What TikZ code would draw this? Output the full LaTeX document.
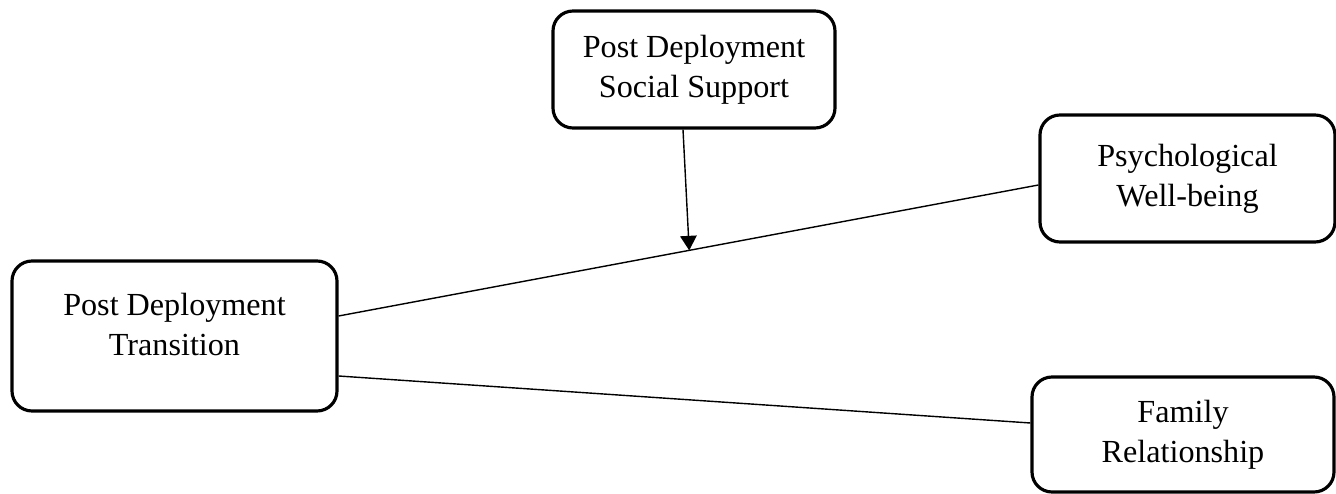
\documentclass[tikz,border=0pt]{standalone}
\usepackage{fontspec}
\setmainfont{Liberation Serif}
\usetikzlibrary{arrows.meta}
\newcommand{\boxcolor}{black}
\newcommand{\boxthick}{1.8pt}
\newcommand{\linkthick}{0.8pt}
\tikzset{varbox/.style={draw=\boxcolor, line width=\boxthick, rounded corners=0.4cm, align=center, inner sep=0pt, font=\fontsize{18.3}{22.8}\selectfont}}

\begin{document}
\begin{tikzpicture}
\useasboundingbox (0,0) rectangle (26.72,-9.88);
\node[varbox, minimum width=5.64cm, minimum height=2.34cm] (support) at (13.88,-1.39) {Post Deployment\\Social Support};
\node[varbox, minimum width=5.9cm, minimum height=2.54cm] (wellbeing) at (23.75,-3.57) {Psychological\\Well-being};
\node[varbox, minimum width=6.5cm, minimum height=3.0cm, text depth=0.45cm] (transition) at (3.49,-6.72) {Post Deployment\\Transition};
\node[varbox, minimum width=6.04cm, minimum height=2.3cm] (family) at (23.66,-8.69) {Family\\Relationship};
%links
\draw[line width=\linkthick] ([yshift=0.4cm]transition.east) -- coordinate[pos=0.501] (meet) ([yshift=-0.13cm]wellbeing.west);
\draw[line width=\linkthick, -{Triangle[length=0.29cm, width=0.33cm]}] ([xshift=-0.22cm]support.south) -- (meet);
\draw[line width=\linkthick] ([yshift=-0.8cm]transition.east) -- ([yshift=0.23cm]family.west);
\end{tikzpicture}
\end{document}
